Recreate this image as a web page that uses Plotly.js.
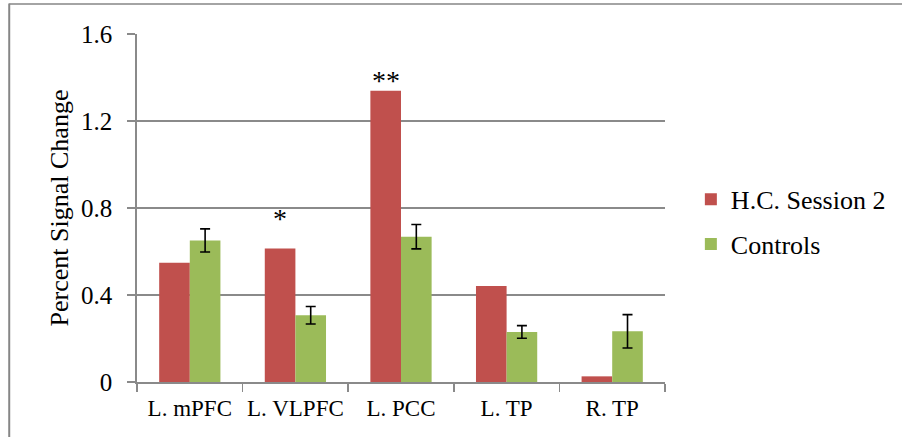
<!DOCTYPE html>
<html>
<head>
<meta charset="utf-8">
<script src="https://cdn.plot.ly/plotly-3.0.1.min.js"></script>
<style>
  html, body { margin: 0; padding: 0; background: #fff; }
  #chart { width: 902px; height: 437px; }
</style>
</head>
<body>
<div id="chart"></div>
<script>
// Brain regions of interest
const regions = ["L. mPFC", "L. VLPFC", "L. PCC", "L. TP", "R. TP"];

// Percent signal change per region
const hcSession2 = [0.548, 0.614, 1.339, 0.441, 0.026];
const controls = [0.651, 0.307, 0.668, 0.230, 0.233];
const controlsErr = [0.053, 0.040, 0.056, 0.029, 0.077];

// Significance markers above the H.C. bars
const sigRegions = ["L. VLPFC", "L. PCC"];
const sigLabels = ["*", "**"];
const sigLevels = [0.752, 1.388];

const serif = "Liberation Serif, Times New Roman, serif";
const gridGray = "#8a8a8a";

const traces = [
  {
    type: "bar",
    name: "H.C. Session 2",
    x: regions,
    y: hcSession2,
    marker: { color: "#C0504D" },
    legendgroup: "a"
  },
  {
    type: "bar",
    name: "Controls",
    x: regions,
    y: controls,
    marker: { color: "#9BBB59" },
    error_y: { type: "data", array: controlsErr, visible: true, color: "#000", thickness: 1.6, width: 5 },
    legendgroup: "b"
  }
];

const annotations = sigRegions.map((r, i) => ({
  x: r, y: sigLevels[i], xref: "x", yref: "y",
  text: sigLabels[i], showarrow: false,
  xshift: -15, yanchor: "middle",
  font: { family: serif, size: 28, color: "#000" }
}));

const layout = {
  width: 902, height: 437,
  margin: { l: 137, r: 236, t: 34, b: 55, pad: 0 },
  paper_bgcolor: "#fff", plot_bgcolor: "#fff",
  barmode: "group",
  bargap: 0.42,
  bargroupgap: 0,
  font: { family: serif, color: "#000", size: 23 },
  xaxis: {
    type: "category",
    showline: true, linecolor: gridGray, linewidth: 1.6,
    ticks: "outside", tickson: "boundaries", ticklen: 8, tickcolor: gridGray, tickwidth: 1.6,
    tickangle: 0,
    ticklabelstandoff: 5,
    tickfont: { family: serif, size: 23, color: "#000" },
    showgrid: false, zeroline: false
  },
  yaxis: {
    range: [0, 1.6],
    tickvals: [0, 0.4, 0.8, 1.2, 1.6],
    ticktext: ["0", "0.4", "0.8", "1.2", "1.6"],
    showline: true, linecolor: gridGray, linewidth: 1.8,
    ticks: "outside", ticklen: 8, tickcolor: gridGray, tickwidth: 1.6,
    ticklabelstandoff: 10,
    tickfont: { family: serif, size: 25, color: "#000" },
    showgrid: true, gridcolor: gridGray, gridwidth: 1.6,
    zeroline: false,
    title: { text: "Percent Signal Change", font: { family: serif, size: 26, color: "#000" }, standoff: 5 }
  },
  legend: {
    x: 1.047, xanchor: "left", y: 0.46, yanchor: "middle",
    font: { family: serif, size: 26, color: "#000" },
    tracegroupgap: 8,
    bgcolor: "rgba(0,0,0,0)"
  },
  annotations: annotations,
  shapes: [
    { type: "line", xref: "paper", yref: "paper", x0: -0.242, x1: 1.5, y0: 1.086, y1: 1.086, line: { color: "#868686", width: 1.5 } },
    { type: "line", xref: "paper", yref: "paper", x0: -0.242, x1: -0.242, y0: 1.088, y1: -0.2, line: { color: "#868686", width: 2 } }
  ]
};

Plotly.newPlot("chart", traces, layout, { displayModeBar: false, staticPlot: true });
</script>
</body>
</html>
